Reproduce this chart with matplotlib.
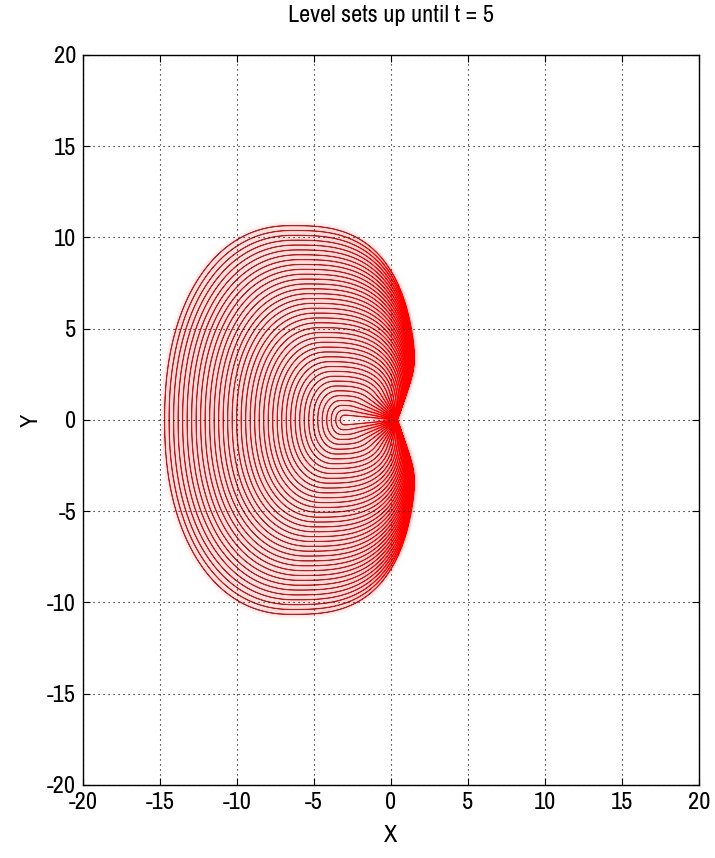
import numpy as np
import matplotlib
matplotlib.use("Agg")
import matplotlib.pyplot as plt
from matplotlib.collections import LineCollection

plt.rcParams['font.family'] = ['Archivo Narrow', 'Liberation Sans', 'DejaVu Sans']

# Times of the plotted level sets
levels = [0.125, 0.25, 0.375, 0.5, 0.625, 0.75, 0.875, 1.0,
          1.125, 1.25, 1.375, 1.5, 1.625, 1.75, 1.875, 2.0,
          2.125, 2.25, 2.375, 2.5, 2.625, 2.75, 2.875, 3.0,
          3.125, 3.25, 3.375, 3.5, 3.625, 3.75, 3.875, 4.0,
          4.125, 4.25, 4.375, 4.5, 4.625, 4.75, 4.875, 5.0]

# Front parameters of the growing set
start_x = -2.9        # x where the first sets appear (on y = 0)
left_speed = 2.34     # speed of the leftmost point
drift_speed = 0.72    # leftward drift of the topmost point
up_speed = 2.13       # speed of the topmost point
right_limit = 1.85    # asymptote of the rightmost point
right_rate = 1.5      # time constant of the right front
cusp_x = 0.4          # cusp on the positive x side
notch_slope = 0.42    # dx/d|y| of the notch around the cusp
notch_round = 5.0     # rounding of the lobes next to the notch
left_power = 2.2
right_power = 2.8

ticks = [-20, -15, -10, -5, 0, 5, 10, 15, 20]


def convex_hull(pts):
    pts = sorted(set(map(tuple, pts)))

    def cross(o, a, b):
        return (a[0] - o[0]) * (b[1] - o[1]) - (a[1] - o[1]) * (b[0] - o[0])

    lower, upper = [], []
    for p in pts:
        while len(lower) >= 2 and cross(lower[-2], lower[-1], p) <= 0:
            lower.pop()
        lower.append(p)
    for p in reversed(pts):
        while len(upper) >= 2 and cross(upper[-2], upper[-1], p) <= 0:
            upper.pop()
        upper.append(p)
    hull = np.array(lower[:-1] + upper[:-1])
    return np.vstack([hull, hull[:1]])


def level_curve(t, n=900):
    cx = start_x - drift_speed * t
    b = up_speed * t
    a_left = cx - (start_x - 0.1 - left_speed * t)
    x_right = right_limit - (right_limit - start_x) * np.exp(-t / right_rate)
    a_right = x_right - cx
    phi = np.linspace(0, 2 * np.pi, n)
    c, s = np.cos(phi), np.sin(phi)
    right = c >= 0
    p = np.where(right, right_power, left_power)
    a = np.where(right, a_right, a_left)
    x = cx + a * np.sign(c) * np.abs(c) ** (2 / p)
    y = b * np.sign(s) * np.abs(s) ** (2 / p)
    if x_right <= cusp_x:
        pts = np.column_stack([x, y])
        pts = np.vstack([pts, [[cusp_x, 0.0]]])
        h = convex_hull(np.round(pts, 6))
        return h[:, 0], h[:, 1]
    v = cusp_x + notch_slope * np.abs(y)
    k = notch_round
    m = np.minimum(x, v)
    x = m - np.log(np.exp(-k * (x - m)) + np.exp(-k * (v - m))) / k
    x = np.where(np.abs(y) < 1e-9, cusp_x, x)
    return x, y


def _gauss_blur(img, sigma):
    r = int(3 * sigma + 1)
    g = np.exp(-0.5 * (np.arange(-r, r + 1) / sigma) ** 2)
    g /= g.sum()
    out = np.apply_along_axis(lambda v: np.convolve(v, g, mode='same'), 0, img)
    out = np.apply_along_axis(lambda v: np.convolve(v, g, mode='same'), 1, out)
    return out


def chroma_bleed(img, dpi, pad=9, sigma=2.2, strength=2.0, core=1.45):
    # red ink on white: the colour spreads wider than the dark core of each line
    a = np.pad(img[..., 3], pad)
    ab = np.clip(strength * _gauss_blur(a, sigma), 0, 1)
    y = 1 - 0.701 * np.clip(core * a, 0, 1)
    r = y + 0.701 * ab
    g = y - 0.299 * ab
    out = np.zeros(a.shape + (4,))
    out[..., 0] = np.clip(r, 0, 1)
    out[..., 1] = np.clip(g, 0, 1)
    out[..., 2] = np.clip(g, 0, 1)
    out[..., 3] = 1.0
    return out, -pad, -pad


fig = plt.figure(figsize=(7.15, 8.58), dpi=100)
ax = fig.add_axes([0.1161, 0.0851, 0.8615, 0.8508])

curves = [np.column_stack(level_curve(t)) for t in levels]
lc = LineCollection(curves, colors='#ff0000', linewidths=0.8, zorder=1)
lc.set_agg_filter(chroma_bleed)
ax.add_collection(lc)

ax.set_xlim(-20, 20)
ax.set_ylim(-20, 20)
ax.set_xticks(ticks)
ax.set_yticks(ticks)
ax.set_xticklabels([str(v) for v in ticks])
ax.set_yticklabels([str(v) for v in ticks])
ax.grid(True, color='black', lw=0.8, linestyle=(0, (1, 3.5)), zorder=3)
ax.set_axisbelow(False)
ax.tick_params(direction='in', length=5, width=0.8, top=True, right=True,
               labelsize=17.5, pad=5)
for sp in ax.spines.values():
    sp.set_linewidth(1.0)
    sp.set_zorder(5)

ax.set_title('Level sets up until t = 5', fontsize=17.5, pad=24)
ax.set_xlabel('X', fontsize=17.5, labelpad=9)
ax.set_ylabel('Y', fontsize=17.5, labelpad=4)

fig.savefig('out.png', dpi=100)
